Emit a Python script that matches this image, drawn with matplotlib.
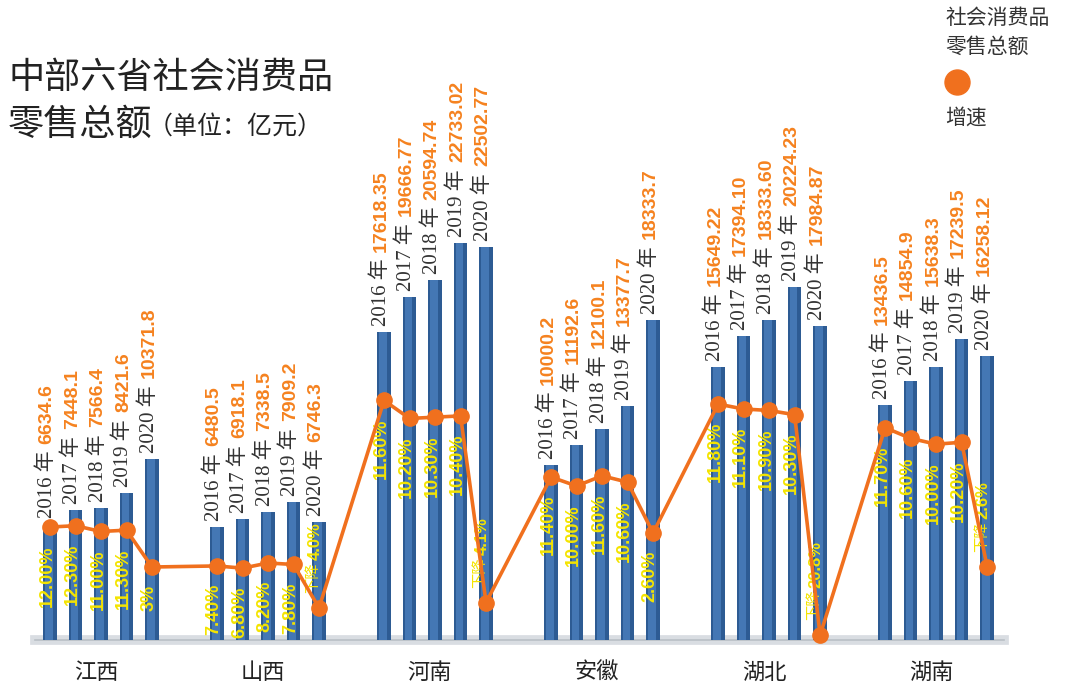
import matplotlib
matplotlib.use("Agg")
import matplotlib.pyplot as plt
from matplotlib.lines import Line2D
from matplotlib.patches import ConnectionPatch

provinces = ["江西", "山西", "河南", "安徽", "湖北", "湖南"]
years = ["2016", "2017", "2018", "2019", "2020"]

# 社会消费品零售总额 (亿元), kept as text so the printed decimals stay as in the source
jiangxi_sales = ["6634.6", "7448.1", "7566.4", "8421.6", "10371.8"]
shanxi_sales = ["6480.5", "6918.1", "7338.5", "7909.2", "6746.3"]
henan_sales = ["17618.35", "19666.77", "20594.74", "22733.02", "22502.77"]
anhui_sales = ["10000.2", "11192.6", "12100.1", "13377.7", "18333.7"]
hubei_sales = ["15649.22", "17394.10", "18333.60", "20224.23", "17984.87"]
hunan_sales = ["13436.5", "14854.9", "15638.3", "17239.5", "16258.12"]

# 增速 (%)
jiangxi_growth = [12.0, 12.3, 11.0, 11.3, 3.0]
shanxi_growth = [7.4, 6.8, 8.2, 7.8, -4.0]
henan_growth = [11.6, 10.2, 10.3, 10.4, -4.1]
anhui_growth = [11.4, 10.0, 11.6, 10.6, 2.6]
hubei_growth = [11.8, 11.1, 10.9, 10.3, -20.8]
hunan_growth = [11.7, 10.6, 10.0, 10.2, -2.6]

jiangxi_growth_text = ["12.00%", "12.30%", "11.00%", "11.30%", "3%"]
shanxi_growth_text = ["7.40%", "6.80%", "8.20%", "7.80%", "4.0%"]
henan_growth_text = ["11.60%", "10.20%", "10.30%", "10.40%", "4.1%"]
anhui_growth_text = ["11.40%", "10.00%", "11.60%", "10.60%", "2.60%"]
hubei_growth_text = ["11.80%", "11.10%", "10.90%", "10.30%", "20.8%"]
hunan_growth_text = ["11.70%", "10.60%", "10.00%", "10.20%", "2.6%"]

# the source draws each province's growth line on its own scale
growth_ylims = [(-25.6, 130.7), (-27.4, 161.2), (-11.2, 42.7),
                (-22.7, 86.4), (-29.1, 68.8), (-15.7, 55.7)]

sales = [jiangxi_sales, shanxi_sales, henan_sales, anhui_sales, hubei_sales, hunan_sales]
growth = [jiangxi_growth, shanxi_growth, henan_growth, anhui_growth, hubei_growth, hunan_growth]
growth_text = [jiangxi_growth_text, shanxi_growth_text, henan_growth_text,
               anhui_growth_text, hubei_growth_text, hunan_growth_text]

BLUE_DARK = "#2d5b93"
BLUE = "#4477b4"
ORANGE = "#f0701e"
VALUE_ORANGE = "#f5821f"
YELLOW = "#f4e400"
GROUP_STEP = 6.55

serif = ["Liberation Serif", "Noto Sans CJK SC"]
narrow = ["Liberation Sans Narrow", "Liberation Sans", "DejaVu Sans"]
cjk = ["Noto Sans CJK SC", "DejaVu Sans"]

fig = plt.figure(figsize=(10.8, 6.94), dpi=100)
ax = fig.add_axes([0, 0, 1, 1])
xlim = (-50 / 25.5, 1030 / 25.5)
ax.set_xlim(*xlim)
ax.set_ylim(-54 / 0.01746, 640 / 0.01746)
ax.axis("off")

# floor
ax.axhline(0, xmin=0.032, xmax=0.93, color="#d9dde2", lw=7, zorder=1)
ax.axhline(0, xmin=0.032, xmax=0.93, color="#b9bfc6", lw=1.2, zorder=1)

lead_texts = []
growth_axes = []
ends = []
for g, prov in enumerate(provinces):
    vals = [float(s) for s in sales[g]]
    pos = [g * GROUP_STEP + i for i in range(len(years))]
    ax.bar(pos, vals, width=0.52, color=BLUE_DARK, zorder=2)
    ax.bar([p - 0.04 for p in pos], vals, width=0.3, color=BLUE, zorder=2)
    for i, p in enumerate(pos):
        t = ax.annotate(years[i] + " 年", (p, vals[i]), xytext=(-3, 6), textcoords="offset pixels",
                        rotation=90, ha="center", va="bottom", fontsize=15,
                        family=serif, color="#333333", zorder=3)
        lead_texts.append((t, ax, p, vals[i], sales[g][i]))
    ax.text(sum(pos) / len(pos) - 0.2, -1850, prov, ha="center", va="center",
            fontsize=16, family=cjk, color="#222222")

    gax = ax.twinx()
    gax.set_xlim(*xlim)
    gax.set_ylim(*growth_ylims[g])
    gax.axis("off")
    growth_axes.append(gax)
    gax.plot(pos, growth[g], color=ORANGE, lw=2.6, marker="o", ms=11, zorder=5)
    ends.append((pos[0], growth[g][0], pos[-1], growth[g][-1]))

    for i, p in enumerate(pos):
        v = growth[g][i]
        if v >= 0:
            gax.annotate(growth_text[g][i], (p, v), xytext=(-3, -18), textcoords="offset pixels",
                         rotation=90, ha="center", va="top", fontsize=13, fontweight="bold",
                         family=narrow, color=YELLOW, zorder=4)
        else:
            t1 = gax.annotate("下降", (p, v), xytext=(-6, 15), textcoords="offset pixels",
                              rotation=90, ha="center", va="bottom", fontsize=11,
                              family=cjk, color=YELLOW, zorder=4)
            lead_texts.append((t1, gax, p, v, growth_text[g][i]))

# the growth line runs on from one province to the next
for g in range(len(provinces) - 1):
    con = ConnectionPatch(xyA=(ends[g][2], ends[g][3]), coordsA=growth_axes[g].transData,
                          xyB=(ends[g + 1][0], ends[g + 1][1]), coordsB=growth_axes[g + 1].transData,
                          color=ORANGE, lw=2.6, zorder=5)
    growth_axes[-1].add_artist(con)

# place the sales values (and the numbers after 下降) just beyond their leading text
fig.canvas.draw()
renderer = fig.canvas.get_renderer()
for t, owner, p, v, label in lead_texts:
    h = t.get_window_extent(renderer).height
    if owner is ax:
        ax.annotate(label, (p, v), xytext=(-3, 6 + h + 7), textcoords="offset pixels",
                    rotation=90, ha="center", va="bottom", fontsize=14, fontweight="bold",
                    family=narrow, color=VALUE_ORANGE, zorder=3)
    else:
        owner.annotate(label, (p, v), xytext=(-4, 15 + h + 2), textcoords="offset pixels",
                       rotation=90, ha="center", va="bottom", fontsize=12, fontweight="bold",
                       family=narrow, color=YELLOW, zorder=4)

# title
fig.text(8 / 1080, 1 - 78 / 694, "中部六省社会消费品", fontsize=26, family=cjk,
         color="#222222", va="center", ha="left")
fig.text(8 / 1080, 1 - 125 / 694, "零售总额", fontsize=26, family=cjk,
         color="#222222", va="center", ha="left")
fig.text(148 / 1080, 1 - 127 / 694, "（单位：亿元）", fontsize=18, family=cjk,
         color="#222222", va="center", ha="left")

# legend
fig.text(945 / 1080, 1 - 18 / 694, "社会消费品", fontsize=15, family=cjk, color="#333333",
         va="center", ha="left")
fig.text(945 / 1080, 1 - 47 / 694, "零售总额", fontsize=15, family=cjk, color="#333333",
         va="center", ha="left")
fig.add_artist(Line2D([957 / 1080], [1 - 82 / 694], marker="o", ms=18, color=ORANGE,
                      transform=fig.transFigure))
fig.text(945 / 1080, 1 - 118 / 694, "增速", fontsize=15, family=cjk, color="#333333",
         va="center", ha="left")

fig.savefig("out.png", dpi=100)
